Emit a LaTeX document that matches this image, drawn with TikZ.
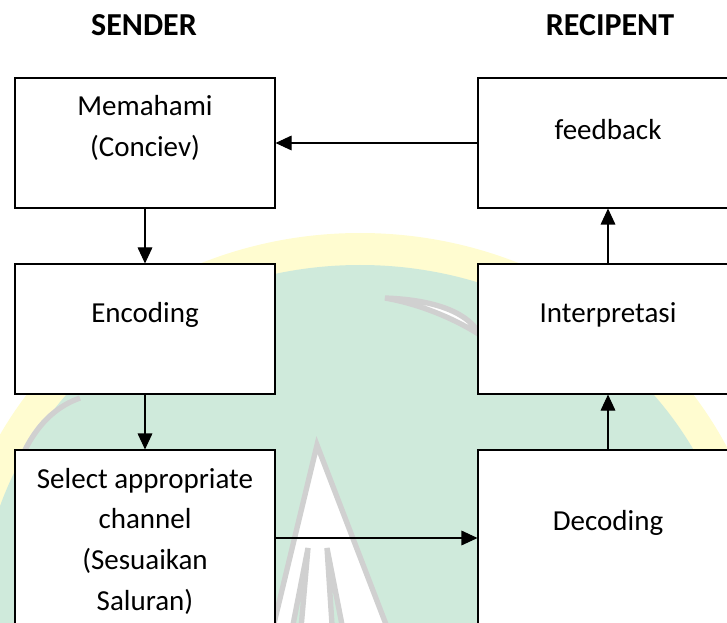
\documentclass[tikz,border=0pt]{standalone}
\usepackage{fontspec}
\setmainfont{Carlito}
\usetikzlibrary{arrows.meta}
\definecolor{wmgreen}{RGB}{207,234,219}
\definecolor{wmyellow}{RGB}{255,252,208}
\definecolor{wmgrey}{RGB}{208,208,208}
\begin{document}
\begin{tikzpicture}[x=0.75pt, y=-0.75pt,
  box/.style={draw, fill=white, line width=0.8pt, minimum width=195pt, minimum height=97.5pt, inner sep=0pt},
  tallbox/.style={box, minimum height=132pt},
  txt/.style={font=\fontsize{21.75}{30.5}\selectfont, align=center, inner sep=0pt},
  head/.style={font=\fontsize{24}{28}\selectfont\bfseries, inner sep=0pt},
  flow/.style={-{Triangle[length=12pt, width=11pt]}, line width=0.8pt}]
  \useasboundingbox (0,0) rectangle (727,623);
  % watermark behind the chart
  \begin{scope}
    \clip (0,0) rectangle (727,623);
    \fill[wmyellow] (360,620) ellipse [x radius=410, y radius=387];
    \fill[wmgreen] (360,620) ellipse [x radius=380, y radius=355];
    \draw[wmgrey, line width=4pt, fill=white] (317,445) -- (392,640) -- (270,640) -- cycle;
    \draw[wmgrey, line width=4pt, fill=wmgreen] (308,548) -- (300,640) -- (290,640) -- cycle;
    \draw[wmgrey, line width=4pt, fill=wmgreen] (327,548) -- (345,640) -- (333,640) -- cycle;
    \draw[wmgrey, line width=4pt, fill=white] (385,298) .. controls (440,300) and (470,315) .. (480,335) .. controls (460,322) and (425,305) .. cycle;
    \draw[wmgrey, line width=4pt] (25,450) .. controls (40,420) and (60,405) .. (80,398);
  \end{scope}
  % headings
  \node[head] (sender) at (144,25) {SENDER};
  \node[head] (recip) at (610,25) {RECIPENT};
  % boxes
  \node[box] (mem) at (145,143) {};
  \node[box] (fb) at (608,143) {};
  \node[box] (enc) at (145,329) {};
  \node[box] (int) at (608,329) {};
  \node[tallbox] (sel) at (145,538) {};
  \node[tallbox] (dec) at (608,538) {};
  % box texts
  \node[txt] (mem-t) at (145,128) {Memahami\\(Conciev)};
  \node[txt] (fb-t) at (608,130) {feedback};
  \node[txt] (enc-t) at (145,315) {Encoding};
  \node[txt] (int-t) at (608,315) {Interpretasi};
  \node[txt] (sel-t) at (145,541) {Select appropriate\\channel\\(Sesuaikan\\Saluran)};
  \node[txt] (dec-t) at (608,523) {Decoding};
  % arrows
  \draw[flow] (fb) -- (mem);
  \draw[flow] (mem) -- (enc);
  \draw[flow] (enc) -- (sel);
  \draw[flow] (sel) -- (dec);
  \draw[flow] (dec) -- (int);
  \draw[flow] (int) -- (fb);
\end{tikzpicture}
\end{document}
